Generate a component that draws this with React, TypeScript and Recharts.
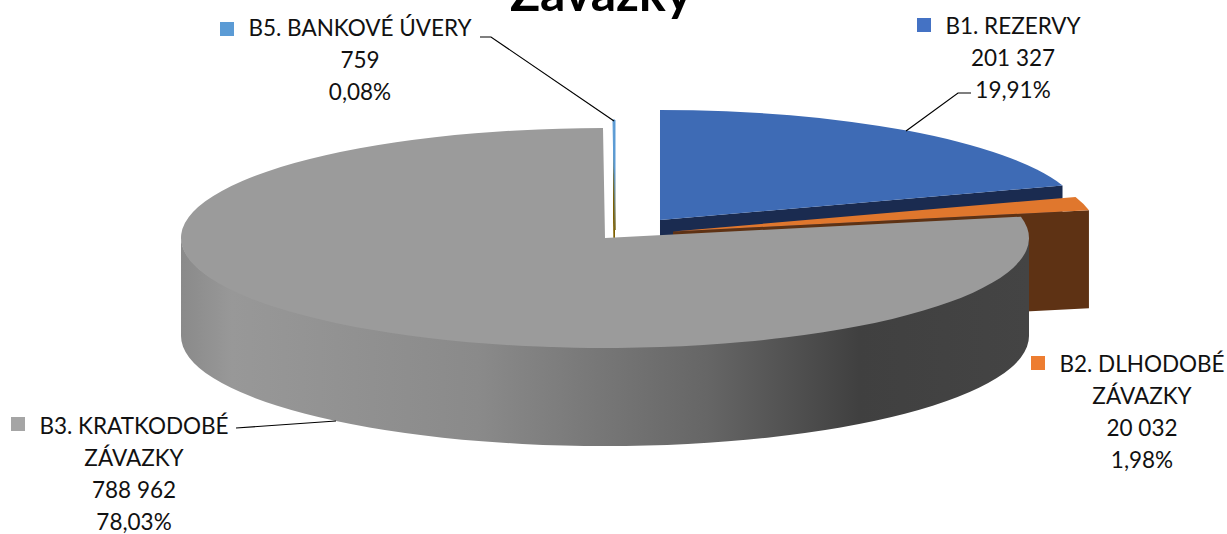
import { PieChart, Pie } from "recharts";

const categories = ["B5. BANKOVÉ ÚVERY", "B1. REZERVY", "B2. DLHODOBÉ ZÁVAZKY", "B3. KRATKODOBÉ ZÁVAZKY"];
const values = [759, 201327, 20032, 788962];
const titleText = "Závazky";

const data = categories.map((name, i) => ({ name, value: values[i] }));
const total = values.reduce((a, b) => a + b, 0);

// 3D look: the pie radius gets squashed vertically and extruded
const W = 1227;
const H = 534;
const CX = 605;
const CY = 238;
const RX = 424;
const SQUASH = 110 / 424;
const DEPTH = 98;

const topColors = ["#5b9bd5", "#3e6bb5", "#e0772d", "#9b9b9b"];
const sideColors = ["#7f6000", "#1a2b50", "#5e3214", "#444444"];
const keyColors = ["#5b9bd5", "#4472c4", "#ed7d31", "#a5a5a5"];
const explode = [
  [10, -8],
  [55, -18],
  [68, -6.5],
  [0, 0],
];

// label blocks: centre x, first line middle y, key square, leader polyline
const labelLines = [
  [categories[0]],
  [categories[1]],
  ["B2. DLHODOBÉ", "ZÁVAZKY"],
  ["B3. KRATKODOBÉ", "ZÁVAZKY"],
];
const labelBoxes = [
  { x: 360, y: 30, key: [220, 22], leader: "480,37 491,37 614,121" },
  { x: 1013, y: 28, key: [917, 18], leader: "971,93 958,93 906,131" },
  { x: 1142, y: 366, key: [1031, 356], leader: "" },
  { x: 134, y: 428, key: [11, 417], leader: "236,428 336,421" },
];

const fmt = (v: number) => String(v).replace(/\B(?=(\d{3})+$)/g, " ");

function Slice(props: any) {
  const { cx, cy, outerRadius, startAngle, endAngle, index } = props;
  const [dx, dy] = explode[index];
  const c = [cx + dx, cy + dy];
  const rx = outerRadius;
  const ry = outerRadius * SQUASH;
  const t1 = 90 - startAngle;
  const t2 = 90 - endAngle;
  const pt = (t: number) => {
    const a = (t * Math.PI) / 180;
    return [c[0] + rx * Math.sin(a), c[1] - ry * Math.cos(a)];
  };
  const face = (t: number) => {
    const p = pt(t);
    return `M${c[0]},${c[1]} L${p[0]},${p[1]} L${p[0]},${p[1] + DEPTH} L${c[0]},${c[1] + DEPTH} Z`;
  };
  const p1 = pt(t1);
  const p2 = pt(t2);
  const large = t2 - t1 > 180 ? 1 : 0;
  const top = `M${c[0]},${c[1]} L${p1[0]},${p1[1]} A${rx},${ry} 0 ${large} 1 ${p2[0]},${p2[1]} Z`;

  const wa = Math.max(t1, 90);
  const wb = Math.min(t2, 270);
  let wall = "";
  if (wb > wa) {
    const a = pt(wa);
    const b = pt(wb);
    wall = `M${a[0]},${a[1] - 1} A${rx},${ry} 0 0 1 ${b[0]},${b[1] - 1} L${b[0]},${b[1] + DEPTH} A${rx},${ry} 0 0 0 ${a[0]},${a[1] + DEPTH} Z`;
  }
  const isSliver = index === 0;
  return (
    <g>
      {t2 > 0 && t2 < 180 && <path d={face(t2)} fill={sideColors[index]} />}
      {t1 > 180 || t1 < 0 ? <path d={face(t1)} fill={sideColors[index]} /> : null}
      {wall && <path d={wall} fill="url(#wallFill)" />}
      <path
        d={top}
        fill={isSliver ? "url(#sliverFill)" : topColors[index]}
        stroke={isSliver ? "url(#sliverFill)" : "none"}
        strokeWidth={isSliver ? 1 : 0}
      />
    </g>
  );
}

function SliceLabel(props: any) {
  const { index, value, percent } = props;
  const box = labelBoxes[index];
  const rows = [...labelLines[index], fmt(value), (percent * 100).toFixed(2).replace(".", ",") + "%"];
  return (
    <g>
      <rect x={box.key[0]} y={box.key[1]} width={14} height={14} fill={keyColors[index]} />
      {box.leader && <polyline points={box.leader} fill="none" stroke="#000" strokeWidth={1.2} />}
      <text textAnchor="middle" fontFamily="Lato" fontSize={22.5} fill="#111">
        {rows.map((r, i) => (
          <tspan key={r} x={box.x} y={box.y + i * 32} dominantBaseline="middle">
            {r}
          </tspan>
        ))}
      </text>
    </g>
  );
}

export default function App() {
  return (
    <div style={{ position: "absolute", left: 0, top: 0, width: W, height: H, background: "#fff" }}>
      <PieChart width={W} height={H} margin={{ top: 0, right: 0, bottom: 0, left: 0 }}>
        <defs>
          <linearGradient id="wallFill" gradientUnits="userSpaceOnUse" x1={181} y1={0} x2={1029} y2={0}>
            <stop offset="0%" stopColor="#8a8a8a" />
            <stop offset="6%" stopColor="#989898" />
            <stop offset="35%" stopColor="#8a8a8a" />
            <stop offset="62%" stopColor="#666666" />
            <stop offset="80%" stopColor="#404040" />
            <stop offset="100%" stopColor="#444444" />
          </linearGradient>
          <linearGradient id="sliverFill" gradientUnits="userSpaceOnUse" x1={0} y1={120} x2={0} y2={238}>
            <stop offset="40%" stopColor="#5b9bd5" />
            <stop offset="100%" stopColor="#7f6000" />
          </linearGradient>
        </defs>
        <text x={601} y={11} textAnchor="middle" fontFamily="Lato" fontWeight={700} fontSize={50} fill="#000">
          {titleText}
        </text>
        <Pie
          data={data}
          dataKey="value"
          nameKey="name"
          cx={CX}
          cy={CY}
          innerRadius={0}
          outerRadius={RX}
          startAngle={90 + (values[0] / total) * 360}
          endAngle={-270 + (values[0] / total) * 360}
          stroke="none"
          shape={Slice}
          label={SliceLabel}
          labelLine={false}
          isAnimationActive={false}
        />
      </PieChart>
    </div>
  );
}
